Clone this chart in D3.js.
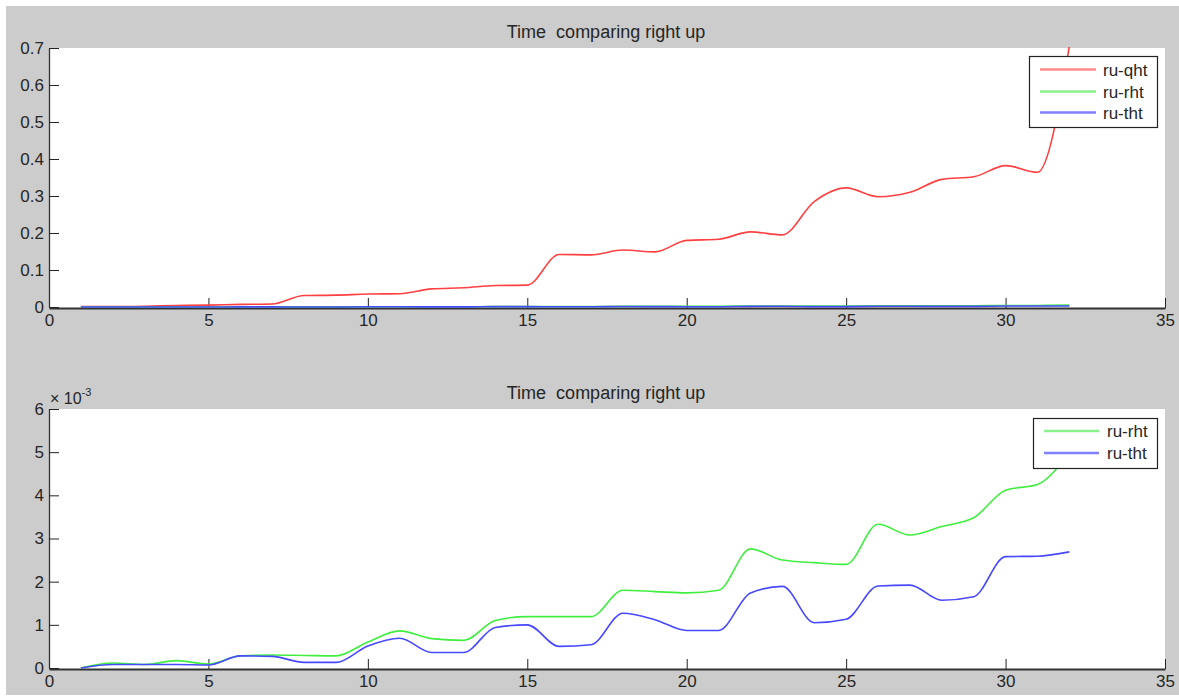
<!DOCTYPE html>
<html><head><meta charset="utf-8">
<script src="https://cdn.jsdelivr.net/npm/d3@7"></script>
<style>
html,body{margin:0;padding:0;background:#fff;}
svg{display:block;font-family:"Liberation Sans",Arial,Helvetica,sans-serif;}
</style></head><body>
<svg id="chart" width="1179" height="697"></svg>
<script>
// ---------- data ----------
const times = [1,2,3,4,5,6,7,8,9,10,11,12,13,14,15,16,17,18,19,20,21,22,23,24,25,26,27,28,29,30,31,32];
const ruQht = [0.001,0.001,0.002,0.004,0.005,0.007,0.008,0.031,0.032,0.035,0.036,0.049,0.052,0.058,0.059,0.142,0.141,0.154,0.149,0.180,0.183,0.203,0.195,0.285,0.322,0.298,0.310,0.345,0.352,0.382,0.364,0.705];
// ru-rht and ru-tht in units of 1e-3
const ruRht = [0,0.115,0.08,0.17,0.09,0.28,0.30,0.29,0.28,0.60,0.86,0.68,0.64,1.10,1.19,1.19,1.19,1.80,1.77,1.74,1.80,2.76,2.50,2.44,2.40,3.33,3.08,3.28,3.48,4.12,4.25,5.0];
const ruTht = [0,0.08,0.08,0.08,0.07,0.28,0.27,0.13,0.13,0.51,0.69,0.36,0.36,0.94,1.00,0.50,0.54,1.27,1.12,0.87,0.87,1.74,1.89,1.05,1.13,1.90,1.92,1.57,1.65,2.58,2.59,2.69];
const bottomExponent = -3;
const xTicks = [0,5,10,15,20,25,30,35];
const yTicksTop = [0,0.1,0.2,0.3,0.4,0.5,0.6,0.7];
const yTicksBottom = [0,1,2,3,4,5,6];
const chartTitle = "Time  comparing right up";
const legendTop = ["ru-qht","ru-rht","ru-tht"];
const legendBottom = ["ru-rht","ru-tht"];
const seriesColors = {"ru-qht":"#ff4040","ru-rht":"#40ee40","ru-tht":"#4848ff"};
const legendColors = {"ru-qht":"#ff8a8a","ru-rht":"#8af28a","ru-tht":"#8080ff"};

// ---------- layout ----------
const W = 1179, H = 697;
const svg = d3.select("#chart");
const FS = 17;
svg.append("rect").attr("x",6).attr("y",6).attr("width",W-6).attr("height",H-8).attr("fill","#cccccc");

const scaleE = Math.pow(10, bottomExponent);
const rows = (key) => times.map((t,i)=>({x:t, y:key[i]}));

const panels = [
  {top:48, bottom:308, domain:[0,0.7], ticks:yTicksTop, titleY:38,
   series:[
     {name:"ru-qht", data:rows(ruQht)},
     {name:"ru-rht", data:rows(ruRht.map(v=>v*scaleE))},
     {name:"ru-tht", data:rows(ruTht.map(v=>v*scaleE))}],
   legend:{x:1029,y:56,w:128,h:71, names:legendTop, lineX:[1040,1096], textX:1103, rows:[69.5,91.5,112.5]}},
  {top:409, bottom:669, domain:[0,6], ticks:yTicksBottom, titleY:399, exponent:true,
   series:[
     {name:"ru-rht", data:rows(ruRht)},
     {name:"ru-tht", data:rows(ruTht)}],
   legend:{x:1033,y:418,w:124,h:50, names:legendBottom, lineX:[1044,1099], textX:1107, rows:[431,453]}}
];

const left = 49, right = 1165;
const x = d3.scaleLinear().domain([0,35]).range([left,right]);

panels.forEach((p,pi)=>{
  const y = d3.scaleLinear().domain(p.domain).range([p.bottom-1,p.top]);
  const g = svg.append("g");
  g.append("rect").attr("x",left).attr("y",p.top).attr("width",right-left).attr("height",p.bottom-p.top).attr("fill","#ffffff");

  // axes
  const xAxis = d3.axisBottom(x).tickValues(xTicks).tickFormat(d3.format("d")).tickSizeInner(-10).tickSizeOuter(0).tickPadding(6);
  const gx = g.append("g").attr("transform",`translate(0,${p.bottom})`).call(xAxis);
  const yAxis = d3.axisLeft(y).tickValues(p.ticks).tickFormat(p.ticks===yTicksTop ? (d=> d===0?"0":d3.format(".1f")(d)) : d3.format("d")).tickSizeInner(-10).tickSizeOuter(0).tickPadding(5);
  const gy = g.append("g").attr("transform",`translate(${left},0)`).call(yAxis);
  [gx,gy].forEach(a=>{
    a.selectAll("text").attr("font-size",FS).attr("fill","#262626").attr("font-family","Liberation Sans, Arial, sans-serif");
    a.selectAll("line").attr("stroke","#222").attr("stroke-width",1);
    a.select(".domain").attr("stroke","#333");
  });
  gx.select(".domain").attr("stroke-width",2);
  gy.select(".domain").attr("stroke-width",1.3);

  // lines (drawn over the axes, clipped to the plot box)
  const clipId = "clip"+pi;
  svg.append("clipPath").attr("id",clipId).append("rect")
    .attr("x",left).attr("y",p.top-1).attr("width",right-left).attr("height",p.bottom-p.top+1);
  const line = d3.line().x(d=>x(d.x)).y(d=>y(d.y)).curve(d3.curveMonotoneX);
  const lg = g.append("g").attr("clip-path",`url(#${clipId})`);
  p.series.forEach(s=>{
    lg.append("path").datum(s.data).attr("d",line).attr("fill","none")
      .attr("stroke",seriesColors[s.name]).attr("stroke-width",1.6).attr("stroke-linejoin","round");
  });

  // title
  g.append("text").attr("x",606).attr("y",p.titleY).attr("text-anchor","middle")
    .attr("font-size",18).attr("fill","#262626").style("white-space","pre").attr("xml:space","preserve").text(chartTitle);

  if (p.exponent){
    const t = g.append("text").attr("x",50).attr("y",404).attr("font-size",FS-1).attr("fill","#262626");
    t.append("tspan").text("\u00d7 10");
    t.append("tspan").attr("font-size",11).attr("dy",-8).text(String(bottomExponent));
  }

  // legend
  const L = p.legend;
  const lgd = g.append("g");
  lgd.append("rect").attr("x",L.x+0.5).attr("y",L.y+0.5).attr("width",L.w).attr("height",L.h)
    .attr("fill","#ffffff").attr("stroke","#222").attr("stroke-width",1.2);
  L.names.forEach((n,i)=>{
    lgd.append("line").attr("x1",L.lineX[0]).attr("x2",L.lineX[1]).attr("y1",L.rows[i]).attr("y2",L.rows[i])
      .attr("stroke",legendColors[n]).attr("stroke-width",2.4);
    lgd.append("text").attr("x",L.textX).attr("y",L.rows[i]+6).attr("font-size",FS).attr("fill","#262626").text(n);
  });
});
</script>
</body></html>
